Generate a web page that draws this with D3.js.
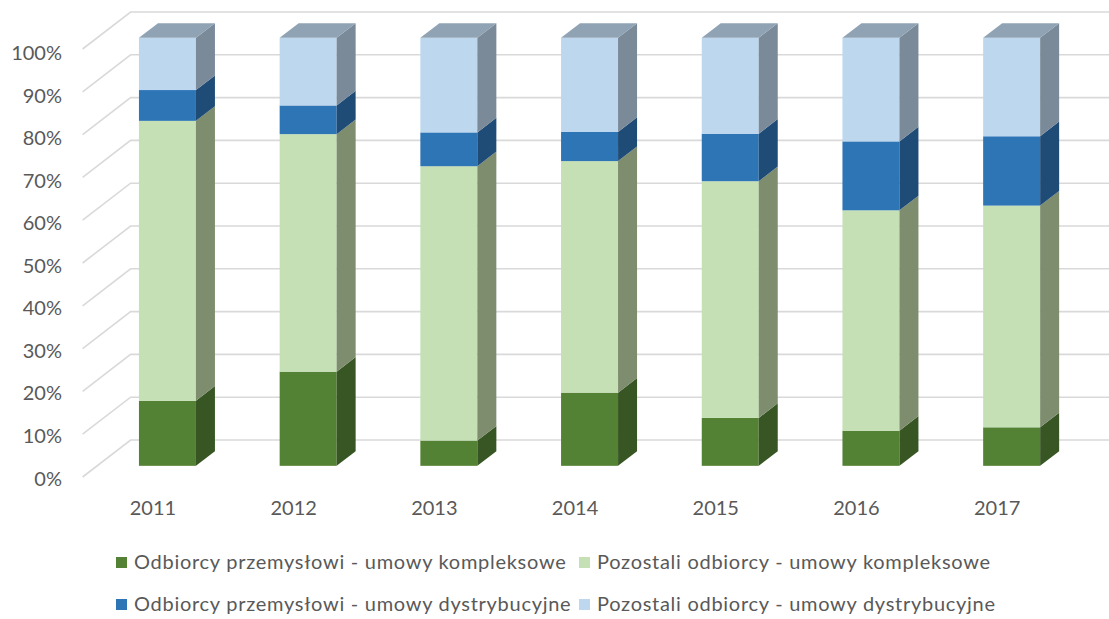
<!DOCTYPE html>
<html>
<head>
<meta charset="utf-8">
<script src="https://cdn.jsdelivr.net/npm/d3@7"></script>
<style>
  html, body { margin: 0; padding: 0; background: #ffffff; }
  svg { display: block; }
  text { font-family: Lato, "Open Sans", "Liberation Sans", sans-serif; fill: #595959; }
</style>
</head>
<body>
<svg id="chart" width="1109" height="619"></svg>
<script>
// ---- data ----
const categories = ["2011", "2012", "2013", "2014", "2015", "2016", "2017"];
const seriesNames = [
  "Odbiorcy przemysłowi - umowy kompleksowe",
  "Pozostali odbiorcy - umowy kompleksowe",
  "Odbiorcy przemysłowi - umowy dystrybucyjne",
  "Pozostali odbiorcy - umowy dystrybucyjne"
];
const przemysloweKompleksowe = [15.2, 22.0, 5.9, 17.1, 11.2, 8.2, 9.0];
const pozostaliKompleksowe   = [65.4, 55.5, 64.1, 54.1, 55.3, 51.5, 51.8];
const przemysloweDystryb     = [7.2, 6.7, 7.9, 6.8, 11.1, 16.1, 16.2];
const pozostaliDystryb       = [12.2, 15.8, 22.1, 22.0, 22.4, 24.2, 23.0];
const yTickValues = [0, 0.1, 0.2, 0.3, 0.4, 0.5, 0.6, 0.7, 0.8, 0.9, 1.0];

// ---- styles ----
const frontColors = ["#548235", "#c5e0b4", "#2e75b6", "#bdd7ee"];
const sideColors  = ["#375623", "#7e8d6e", "#1f4b77", "#7a8a99"];
const topColors   = ["#3f6128", "#9aae8c", "#24578a", "#8fa3b5"];

const svg = d3.select("#chart");

// oblique 3D projection
const DX = 48, DY = 37;            // depth offset of the back wall
const zFront = 0.302, zBack = 0.698; // bar depth inside the floor

const x = d3.scaleBand()
  .domain(categories)
  .range([82.6, 1067.5])
  .paddingInner(0.595)
  .paddingOuter(0.2975);

const y = d3.scaleLinear().domain([0, 1]).range([477, 49]);
const yLabel = d3.scaleLinear().domain([0, 1]).range([477.5, 52]);

function P(px, v, z) { return [px + z * DX, y(v) - z * DY]; }
const poly = pts => pts.map(p => p.join(",")).join(" ");

// ---- gridlines (left wall diagonal + back wall horizontal) ----
const [xL, xR] = x.range();
const grid = svg.append("g");
yTickValues.forEach(v => {
  const a = P(xL, v, 0), b = P(xL, v, 1), c = P(xR, v, 1);
  grid.append("polyline")
    .attr("points", poly([a, b, [c[0] + 10, c[1]]]))
    .attr("fill", "none")
    .attr("stroke", "#d9d9d9")
    .attr("stroke-width", 1.6);
});

// ---- y axis labels ----
svg.append("g").selectAll("text")
  .data(yTickValues)
  .join("text")
  .attr("x", 62)
  .attr("y", d => yLabel(d))
  .attr("text-anchor", "end")
  .attr("dominant-baseline", "central")
  .style("font-size", "20px")
  .text(d3.format(".0%"));

// ---- stacked data ----
const table = categories.map((c, i) => ({
  cat: c,
  s0: przemysloweKompleksowe[i],
  s1: pozostaliKompleksowe[i],
  s2: przemysloweDystryb[i],
  s3: pozostaliDystryb[i]
}));
const stacked = d3.stack()
  .keys(["s0", "s1", "s2", "s3"])
  .offset(d3.stackOffsetExpand)(table);

// ---- 3D bars ----
const bars = svg.append("g");
stacked.forEach((layer, si) => {
  const g = bars.append("g");
  layer.forEach(d => {
    const x0 = x(d.data.cat), x1 = x0 + x.bandwidth();
    const v0 = d[0], v1 = d[1];
    // front
    const f0 = P(x0, v1, zFront), f1 = P(x1, v0, zFront);
    g.append("rect")
      .attr("x", f0[0]).attr("y", f0[1])
      .attr("width", f1[0] - f0[0]).attr("height", f1[1] - f0[1])
      .attr("fill", frontColors[si]);
    // side
    g.append("polygon")
      .attr("points", poly([P(x1, v0, zFront), P(x1, v0, zBack), P(x1, v1, zBack), P(x1, v1, zFront)]))
      .attr("fill", sideColors[si]);
    // top (only visible on the top segment)
    if (si === stacked.length - 1) {
      g.append("polygon")
        .attr("points", poly([P(x0, v1, zFront), P(x1, v1, zFront), P(x1, v1, zBack), P(x0, v1, zBack)]))
        .attr("fill", topColors[si]);
    }
  });
});

// ---- category labels ----
svg.append("g").selectAll("text")
  .data(categories)
  .join("text")
  .attr("x", d => x(d) + x.bandwidth() / 2)
  .attr("y", 515)
  .attr("text-anchor", "middle")
  .style("font-size", "20px")
  .text(d => d);

// ---- legend ----
const legendX = [116, 579];
const legendY = [569, 611];
const legend = svg.append("g");
seriesNames.forEach((name, i) => {
  const lx = legendX[i % 2], ly = legendY[Math.floor(i / 2)];
  legend.append("rect")
    .attr("x", lx).attr("y", ly - 12)
    .attr("width", 11).attr("height", 11)
    .attr("fill", frontColors[i]);
  legend.append("text")
    .attr("x", lx + 18).attr("y", ly)
    .style("font-size", "20px")
    .style("letter-spacing", "0.72px")
    .text(name);
});
</script>
</body>
</html>
